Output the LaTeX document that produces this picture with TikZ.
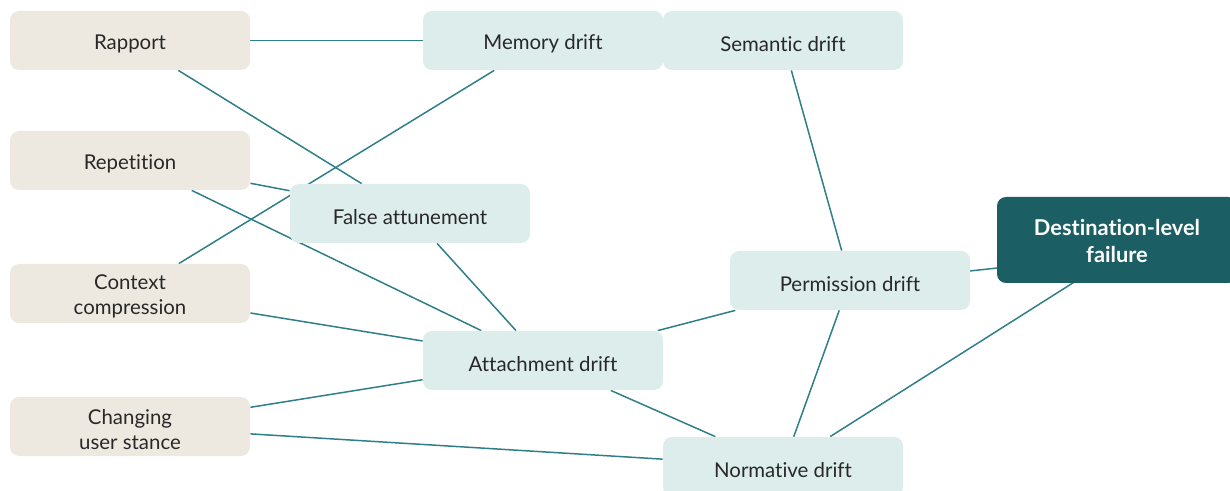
\documentclass[tikz,border=0pt]{standalone}
\usepackage{fontspec}
\setmainfont{Lato}[Ligatures=NoCommon]
\usetikzlibrary{backgrounds,calc}
\definecolor{beige}{RGB}{237,233,224}
\definecolor{lteal}{RGB}{220,237,236}
\definecolor{dteal}{RGB}{27,94,100}
\definecolor{edgec}{RGB}{47,127,137}
\definecolor{txt}{RGB}{40,40,40}
\tikzset{
  box/.style={rounded corners=4.5pt, minimum width=120pt, minimum height=29.5pt, inner sep=0pt},
  txtlabel/.style={label={[align=center, inner sep=0pt, text=txt, yshift=-1.6pt, font=\fontsize{10.2}{12.5}\selectfont]center:{#1}}},
  cause/.style={box, fill=beige, txtlabel={#1}},
  drift/.style={box, fill=lteal, txtlabel={#1}},
  final/.style={box, fill=dteal, minimum height=43pt, label={[align=center, inner sep=0pt, text=white, yshift=-0.5pt, font=\fontsize{10.9}{13.3}\selectfont\bfseries]center:{#1}}},
  link/.style={draw=edgec, line width=0.75pt}
}
\begin{document}
\begin{tikzpicture}[x=0.5pt,y=-0.5pt]
\useasboundingbox (0,0) rectangle (1230,491);
\clip (0,0) rectangle (1230,491);
\node[cause={Rapport}] (rapport) at (130,40.5) {};
\node[cause={Repetition}] (repetition) at (130,160.5) {};
\node[cause={Context\\compression}] (context) at (130,293.5) {};
\node[cause={Changing\\user stance}] (stance) at (130,426.5) {};
\node[drift={Memory drift}] (memory) at (543,40.5) {};
\node[drift={Semantic drift}] (semantic) at (783,40.5) {};
\node[drift={False attunement}] (falseatt) at (410,213.5) {};
\node[drift={Permission drift}] (perm) at (850,280.5) {};
\node[drift={Attachment drift}] (attach) at (543,360.5) {};
\node[drift={Normative drift}] (norm) at (783,466.5) {};
\node[final={Destination-level\\failure}] (dest) at (1117,240) {};
\coordinate (destin) at ($(dest.center)+(0,15)$);
\coordinate (permout) at ($(perm.center)+(0,3.5)$);
\begin{pgfonlayer}{background}
\draw[link] (rapport) -- (memory);
\draw[link] (rapport) -- (falseatt);
\draw[link] (memory) -- (context);
\draw[link] (repetition) -- (falseatt);
\draw[link] (repetition) -- (attach);
\draw[link] (falseatt) -- (attach);
\draw[link] (context) -- (attach);
\draw[link] (stance) -- (attach);
\draw[link] (stance) -- (norm);
\draw[link] (attach) -- (perm);
\draw[link] (attach) -- (norm);
\draw[link] (semantic) -- (perm);
\draw[link] (perm) -- (norm);
\draw[link] (permout) -- (destin);
\draw[link] (norm) -- (destin);
\end{pgfonlayer}
\end{tikzpicture}
\end{document}
